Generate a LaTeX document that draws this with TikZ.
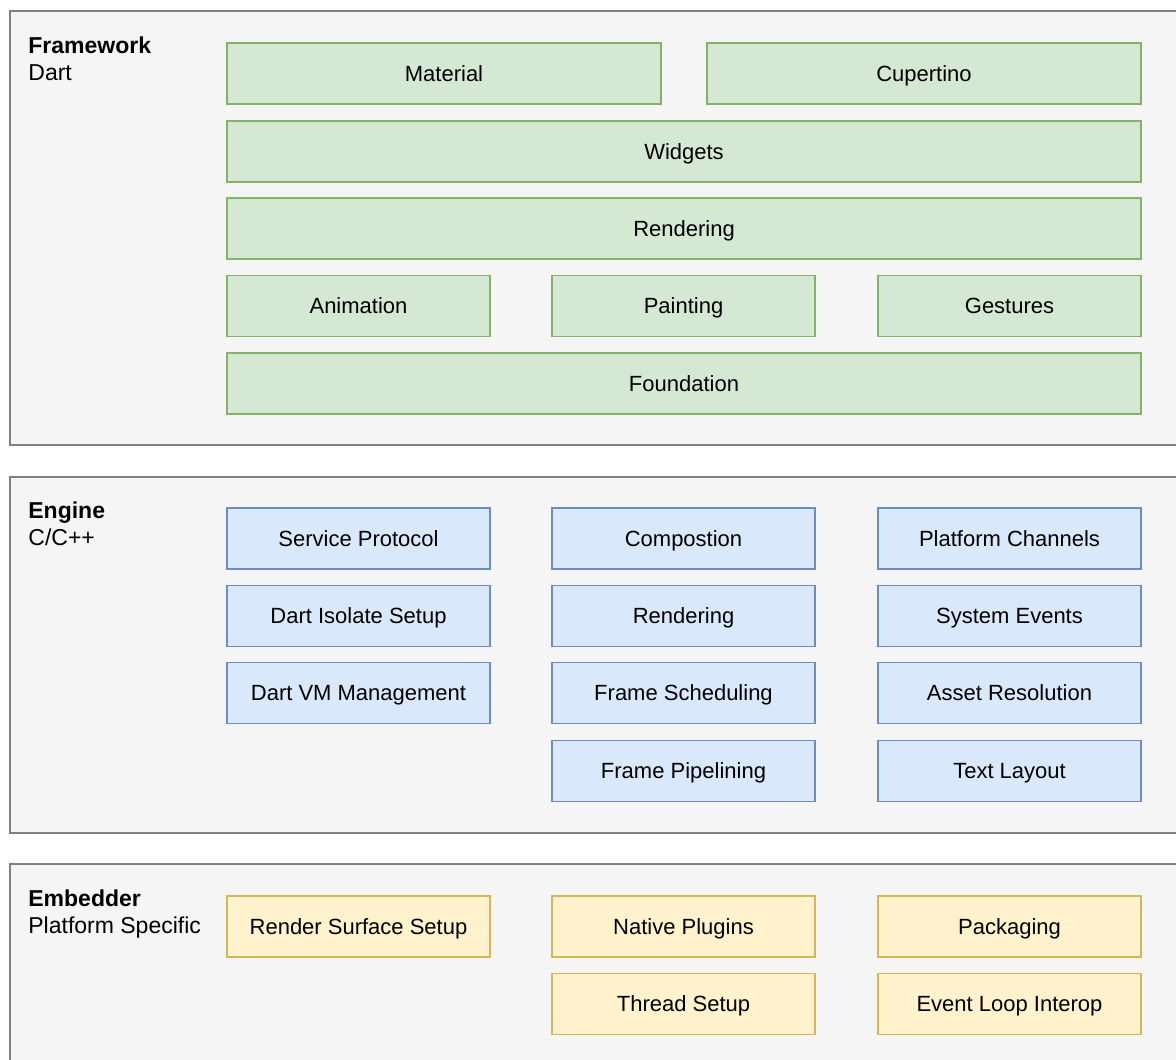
\documentclass[tikz,border=0pt]{standalone}
\usepackage{fontspec}
\setmainfont{Liberation Sans}
\definecolor{layerfill}{HTML}{F5F5F5}
\definecolor{layerline}{HTML}{808080}
\definecolor{dartfill}{HTML}{D5E8D4}
\definecolor{dartline}{HTML}{82B366}
\definecolor{enginefill}{HTML}{DAE8FC}
\definecolor{engineline}{HTML}{6C8EBF}
\definecolor{embfill}{HTML}{FFF2CC}
\definecolor{embline}{HTML}{D6B656}

\begin{document}
\begin{tikzpicture}[
  x=0.5pt, y=-0.5pt,
  layer/.style={draw=layerline, fill=layerfill, line width=1pt},
  ttl/.style={anchor=base west, inner sep=0pt, font=\fontsize{11.5}{13.5}\selectfont\bfseries},
  sub/.style={anchor=base west, inner sep=0pt, font=\fontsize{11.5}{13.5}\selectfont},
  box/.style={draw, line width=0.75pt, minimum height=30.5pt, inner sep=0pt,
    text height=7.9pt, text depth=0pt, font=\fontsize{11}{13}\selectfont},
  dart/.style={box, draw=dartline, fill=dartfill},
  eng/.style={box, draw=engineline, fill=enginefill, minimum width=131.5pt},
  emb/.style={box, draw=embline, fill=embfill, minimum width=131.5pt}
]
\useasboundingbox (0,0) rectangle (1176,1059);
\clip (0,0) rectangle (1176,1059);
% ---- layers ----
\draw[layer] (10,11) rectangle (1220,445);
\draw[layer] (10,477) rectangle (1220,833);
\draw[layer] (10,864) rectangle (1220,1100);
\node[ttl] (fwtitle) at (28,54) {Framework};
\node[sub] (fwlang) at (28,81) {Dart};
\node[ttl] (engtitle) at (28,518) {Engine};
\node[sub] (englang) at (28,545) {C/C++};
\node[ttl] (embtitle) at (28,906) {Embedder};
\node[sub] (emblang) at (28,933) {Platform Specific};
% ---- framework (Dart) ----
\node[dart, minimum width=217pt] (material) at (444,73.5) {Material};
\node[dart, minimum width=217pt] (cupertino) at (924,73.5) {Cupertino};
\node[dart, minimum width=457pt] (widgets) at (684,151.5) {Widgets};
\node[dart, minimum width=457pt] (fwrender) at (684,228.5) {Rendering};
\node[dart, minimum width=131.5pt] (animation) at (358.5,306) {Animation};
\node[dart, minimum width=131.5pt] (painting) at (683.5,306) {Painting};
\node[dart, minimum width=131.5pt] (gestures) at (1009.5,306) {Gestures};
\node[dart, minimum width=457pt] (foundation) at (684,383.5) {Foundation};
% ---- engine (C/C++) ----
\node[eng] (service) at (358.5,538.5) {Service Protocol};
\node[eng] (isolate) at (358.5,616) {Dart Isolate Setup};
\node[eng] (vm) at (358.5,693) {Dart VM Management};
\node[eng] (compose) at (683.5,538.5) {Compostion};
\node[eng] (engrender) at (683.5,616) {Rendering};
\node[eng] (frsched) at (683.5,693) {Frame Scheduling};
\node[eng] (frpipe) at (683.5,771) {Frame Pipelining};
\node[eng] (channels) at (1009.5,538.5) {Platform Channels};
\node[eng] (sysevents) at (1009.5,616) {System Events};
\node[eng] (assets) at (1009.5,693) {Asset Resolution};
\node[eng] (textlayout) at (1009.5,771) {Text Layout};
% ---- embedder (platform specific) ----
\node[emb] (surface) at (358.5,926.5) {Render Surface Setup};
\node[emb] (plugins) at (683.5,926.5) {Native Plugins};
\node[emb] (threads) at (683.5,1004) {Thread Setup};
\node[emb] (packaging) at (1009.5,926.5) {Packaging};
\node[emb] (evloop) at (1009.5,1004) {Event Loop Interop};
\end{tikzpicture}
\end{document}
